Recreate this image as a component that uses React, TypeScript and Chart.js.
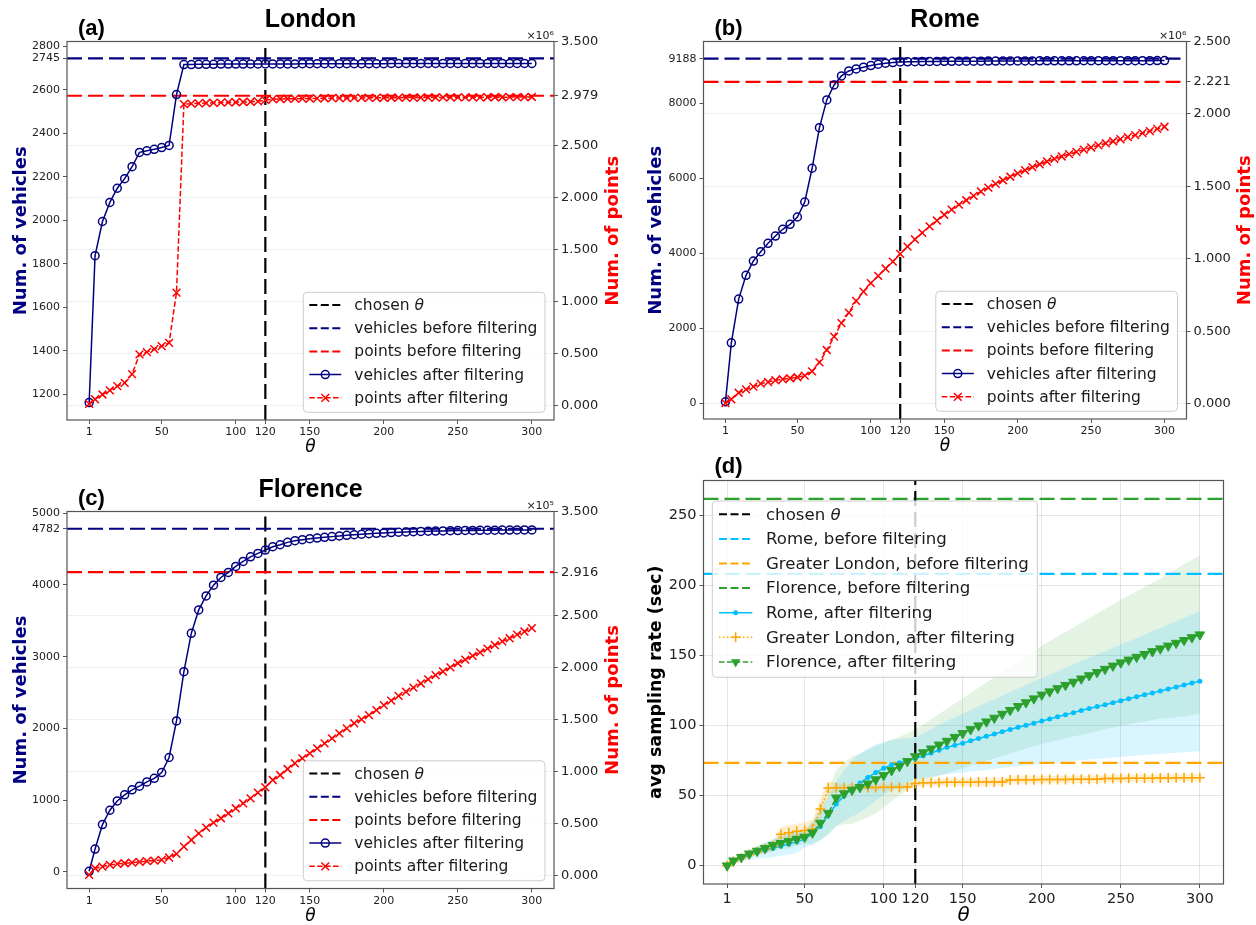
import { useEffect, useRef } from 'react';
import { Chart, registerables } from 'chart.js';

Chart.register(...registerables);

// ---------------- data ----------------
// Filtering threshold θ (seconds) at which each curve was evaluated
const THETA = [
  1, 5, 10, 15, 20, 25, 30, 35, 40, 45,
  50, 55, 60, 65, 70, 75, 80, 85, 90, 95,
  100, 105, 110, 115, 120, 125, 130, 135, 140, 145,
  150, 155, 160, 165, 170, 175, 180, 185, 190, 195,
  200, 205, 210, 215, 220, 225, 230, 235, 240, 245,
  250, 255, 260, 265, 270, 275, 280, 285, 290, 295,
  300,
];
const X_TICKS = [1, 50, 100, 120, 150, 200, 250, 300];
const CHOSEN_THETA = 120;

// (a) London
const LONDON_VEHICLES = [
  1162, 1838, 1995, 2083, 2148, 2192, 2247, 2313, 2320, 2327,
  2335, 2345, 2579, 2717, 2717, 2718, 2718, 2718, 2719, 2719,
  2719, 2719, 2720, 2720, 2720, 2720, 2720, 2720, 2720, 2721,
  2721, 2721, 2721, 2721, 2721, 2721, 2721, 2721, 2721, 2721,
  2721, 2722, 2722, 2722, 2722, 2722, 2722, 2722, 2722, 2722,
  2722, 2722, 2722, 2722, 2722, 2722, 2722, 2722, 2722, 2722,
  2722,
];
const LONDON_POINTS_E6 = [
  0.020, 0.064, 0.110, 0.150, 0.190, 0.222, 0.305, 0.495, 0.517, 0.545,
  0.575, 0.606, 1.089, 2.899, 2.903, 2.906, 2.909, 2.911, 2.913, 2.915,
  2.917, 2.919, 2.921, 2.925, 2.938, 2.946, 2.948, 2.950, 2.951, 2.952,
  2.953, 2.954, 2.955, 2.956, 2.957, 2.957, 2.958, 2.958, 2.959, 2.959,
  2.960, 2.960, 2.961, 2.961, 2.961, 2.962, 2.962, 2.962, 2.963, 2.963,
  2.963, 2.964, 2.964, 2.964, 2.965, 2.965, 2.965, 2.966, 2.966, 2.966,
  2.967,
];
const LONDON_VEHICLES_BEFORE = 2745;
const LONDON_POINTS_BEFORE_E6 = 2.979;
const LONDON_LEFT_TICKS = [1200, 1400, 1600, 1800, 2000, 2200, 2400, 2600, 2745, 2800];
const LONDON_RIGHT_TICKS = [0, 0.5, 1, 1.5, 2, 2.5, 2.979, 3.5];

// (b) Rome
const ROME_VEHICLES = [
  43, 1616, 2781, 3413, 3795, 4043, 4267, 4461, 4640, 4773,
  4968, 5368, 6267, 7349, 8088, 8488, 8728, 8861, 8915, 8960,
  9003, 9040, 9067, 9083, 9101, 9104, 9107, 9110, 9112, 9114,
  9116, 9118, 9119, 9120, 9121, 9122, 9123, 9124, 9125, 9126,
  9127, 9127, 9128, 9129, 9129, 9130, 9130, 9131, 9131, 9132,
  9132, 9133, 9133, 9134, 9134, 9134, 9135, 9135, 9135, 9136,
  9136,
];
const ROME_POINTS_E6 = [
  0.005, 0.032, 0.077, 0.100, 0.119, 0.140, 0.151, 0.163, 0.170, 0.177,
  0.184, 0.195, 0.225, 0.287, 0.372, 0.464, 0.557, 0.630, 0.711, 0.775,
  0.833, 0.883, 0.934, 0.982, 1.035, 1.085, 1.135, 1.180, 1.225, 1.265,
  1.305, 1.340, 1.375, 1.405, 1.435, 1.465, 1.492, 1.518, 1.543, 1.567,
  1.590, 1.612, 1.633, 1.653, 1.672, 1.690, 1.707, 1.723, 1.739, 1.754,
  1.769, 1.784, 1.798, 1.812, 1.826, 1.840, 1.854, 1.868, 1.882, 1.897,
  1.912,
];
const ROME_VEHICLES_BEFORE = 9188;
const ROME_POINTS_BEFORE_E6 = 2.221;
const ROME_LEFT_TICKS = [0, 2000, 4000, 6000, 8000, 9188];
const ROME_RIGHT_TICKS = [0, 0.5, 1, 1.5, 2, 2.221, 2.5];

// (c) Florence
const FLORENCE_VEHICLES = [
  10, 320, 660, 860, 990, 1075, 1145, 1195, 1255, 1305,
  1385, 1595, 2105, 2790, 3325, 3651, 3846, 3996, 4103, 4173,
  4257, 4327, 4391, 4438, 4485, 4531, 4559, 4592, 4615, 4629,
  4643, 4652, 4662, 4672, 4681, 4690, 4698, 4705, 4712, 4718,
  4724, 4729, 4733, 4737, 4741, 4744, 4747, 4750, 4752, 4754,
  4756, 4758, 4759, 4760, 4761, 4762, 4763, 4764, 4765, 4765,
  4766,
];
const FLORENCE_POINTS_E5 = [
  0.003, 0.067, 0.083, 0.099, 0.109, 0.115, 0.121, 0.128, 0.135, 0.141,
  0.147, 0.170, 0.205, 0.275, 0.339, 0.403, 0.458, 0.506, 0.548, 0.596,
  0.644, 0.692, 0.740, 0.794, 0.846, 0.916, 0.964, 1.022, 1.077, 1.125,
  1.173, 1.221, 1.269, 1.317, 1.365, 1.413, 1.462, 1.500, 1.541, 1.589,
  1.637, 1.680, 1.725, 1.765, 1.805, 1.845, 1.885, 1.925, 1.960, 2.000,
  2.040, 2.075, 2.110, 2.145, 2.180, 2.215, 2.250, 2.280, 2.315, 2.345,
  2.378,
];
const FLORENCE_VEHICLES_BEFORE = 4782;
const FLORENCE_POINTS_BEFORE_E5 = 2.916;
const FLORENCE_LEFT_TICKS = [0, 1000, 2000, 3000, 4000, 4782, 5000];
const FLORENCE_RIGHT_TICKS = [0, 0.5, 1, 1.5, 2, 2.5, 2.916, 3.5];

// (d) average sampling rate (sec): mean and spread after filtering
const RATE_ROME = [
  0, 3, 5.5, 7.5, 9.5, 11, 12.5, 14, 15.5, 17,
  19, 23, 28, 36, 44, 50, 55, 59, 63, 66.5,
  69.5, 72, 73.5, 75, 76.5, 78.5, 80.5, 82.5, 84.5, 86,
  87.5, 89.2, 90.8, 92.4, 94, 95.6, 97.2, 98.8, 100.3, 101.8,
  103.3, 104.8, 106.3, 107.8, 109.3, 110.8, 112.2, 113.6, 115, 116.4,
  117.8, 119.2, 120.6, 122, 123.4, 124.8, 126.2, 127.6, 129, 130.4,
  131.8,
];
const RATE_LONDON = [
  0, 3, 5.5, 8, 10, 12, 14, 22.5, 23.5, 24.5,
  25.2, 26, 40.5, 55.5, 55.6, 55.7, 55.8, 55.8, 55.9, 55.9,
  56, 56, 56, 56.1, 58.7, 59.2, 59.3, 59.4, 59.5, 59.5,
  59.6, 59.6, 59.7, 59.7, 59.8, 59.8, 61.2, 61.3, 61.4, 61.4,
  61.5, 61.5, 61.6, 61.6, 61.7, 61.7, 61.8, 61.8, 62.2, 62.3,
  62.3, 62.4, 62.4, 62.5, 62.5, 62.6, 62.6, 62.7, 62.7, 62.8,
  62.8,
];
const RATE_FLORENCE = [
  0, 3.5, 6, 8.5, 10.5, 12.5, 14.5, 16, 17.5, 19,
  20.5, 23.5, 30.5, 37.5, 48.5, 51.5, 54, 56, 58.5, 61.5,
  64.5, 68, 71, 74.5, 78, 80.8, 83.5, 86.3, 89, 91.8,
  94.5, 97.3, 100, 102.8, 105.5, 108.3, 111, 113.8, 116.5, 119.3,
  122, 124.3, 126.6, 128.9, 131.2, 133.5, 135.8, 138.1, 140.4, 142.7,
  145, 147, 149, 151, 153, 155, 157, 159, 161, 163,
  165,
];
const SPREAD_ROME = [
  0, 1.5, 2.5, 3.5, 4.5, 5.5, 6.5, 7, 7.5, 8,
  6, 8, 10, 13, 16, 18, 20, 21, 21, 20,
  19, 18, 17, 16, 15, 16, 17, 18, 19, 20,
  21, 22, 23, 24, 24.9, 25.8, 26.8, 27.8, 28.7, 29.7,
  30.6, 31.6, 32.5, 33.5, 34.4, 35.4, 36.3, 37.3, 38.2, 39.2,
  40.1, 41.1, 42, 43, 44, 45, 46, 47, 48, 49,
  50,
];
const SPREAD_LONDON = [
  0, 1, 1.5, 2, 2.5, 3, 4, 5, 5.5, 5.5,
  6, 6.5, 8, 5, 3, 2.5, 2.5, 2, 2, 2,
  2, 2, 2, 2, 2.5, 2.5, 2.5, 2.5, 2.5, 2.5,
  2.5, 2.5, 2.5, 2.5, 2.5, 2.5, 2.5, 2.5, 2.5, 2.5,
  2.5, 2.5, 2.5, 2.5, 2.5, 2.5, 2.5, 2.5, 2.5, 2.5,
  2.5, 2.5, 2.5, 2.5, 2.5, 2.5, 2.5, 2.5, 2.5, 2.5,
  2.5,
];
const SPREAD_FLORENCE = [
  0, 1, 2, 2.5, 3, 3.5, 4, 4.5, 5, 5,
  5, 8, 12, 16, 20, 22, 24, 24, 24, 24,
  23, 22, 21, 20, 19, 20, 21, 22, 23, 24,
  25, 26, 27, 28, 29, 30, 31, 32, 33, 34,
  35, 36, 37, 38, 39, 40, 41, 42, 43, 44,
  45, 46, 47, 48, 49, 50, 51.5, 53, 54.5, 55.5,
  56.5,
];
const RATE_ROME_BEFORE = 208.4;
const RATE_LONDON_BEFORE = 73.4;
const RATE_FLORENCE_BEFORE = 262;
const RATE_TICKS = [0, 50, 100, 150, 200, 250];

// ---------------- styling ----------------
const FIG_W = 1256;
const FIG_H = 925;
const FONT = '"DejaVu Sans", "Liberation Sans", sans-serif';
const TITLE_FONT = '"Liberation Sans", Arial, sans-serif';
const X_MIN = -13.95;
const X_MAX = 314.95;

const NAVY = '#000080';
const RED = '#ff0000';
const BLACK = '#000000';
const CYAN = '#00bfff';
const ORANGE = '#ffa500';
const GREEN = '#2ca02c';
const SPINE = '#555555';
const TICK_TEXT = '#222222';
const GRID_LIGHT = 'rgba(0,0,0,0.06)';
const GRID_D = 'rgba(0,0,0,0.1)';

const REF_DASH = [15, 6];
const LEG_DASH = [8, 3.5];
const SERIES_DASH = [5.5, 2.4];
const DOTTED = [1.5, 2.5];

type Area = { left: number; top: number; right: number; bottom: number };
type RefLine = { axis: string; value: number; color: string; dash: number[]; width: number };
type Label = {
  text: string; x: number; y: number; size: number; weight: string; color: string;
  align: 'left' | 'center' | 'right'; rotate?: boolean; family?: string;
};
type Marker = 'circle' | 'x' | 'dot' | 'plus' | 'tri';
type LegendEntry = { label: string; color: string; dash: number[]; width: number; marker?: Marker; r?: number };
type LegendBox = {
  x: number; y: number; w: number; h: number; row0: number; gap: number;
  handleX: number; handleLen: number; textX: number; size: number;
};

const pts = (ys: number[]) => THETA.map((t, i) => ({ x: t, y: ys[i] }));

function drawMarker(ctx: CanvasRenderingContext2D, m: Marker, x: number, y: number, r: number, color: string) {
  ctx.save();
  ctx.setLineDash([]);
  ctx.strokeStyle = color;
  ctx.fillStyle = color;
  ctx.lineWidth = 1.5;
  ctx.beginPath();
  if (m === 'circle') {
    ctx.arc(x, y, r, 0, Math.PI * 2);
    ctx.stroke();
  } else if (m === 'dot') {
    ctx.arc(x, y, r, 0, Math.PI * 2);
    ctx.fill();
  } else if (m === 'x') {
    const d = r * Math.SQRT1_2;
    ctx.moveTo(x - d, y - d); ctx.lineTo(x + d, y + d);
    ctx.moveTo(x - d, y + d); ctx.lineTo(x + d, y - d);
    ctx.stroke();
  } else if (m === 'plus') {
    ctx.moveTo(x - r, y); ctx.lineTo(x + r, y);
    ctx.moveTo(x, y - r); ctx.lineTo(x, y + r);
    ctx.stroke();
  } else {
    ctx.moveTo(x, y + r);
    ctx.lineTo(x - r * 0.866, y - r * 0.5);
    ctx.lineTo(x + r * 0.866, y - r * 0.5);
    ctx.closePath();
    ctx.fill();
  }
  ctx.restore();
}

// Text where every θ is set in italics, as in math mode
function drawRich(
  ctx: CanvasRenderingContext2D, text: string, x: number, y: number, size: number,
  weight: string, color: string, align: 'left' | 'center' | 'right', family = FONT,
) {
  const parts = text.split(/(θ)/).filter((p) => p.length > 0);
  const fontOf = (p: string) => `${p === 'θ' ? 'italic' : 'normal'} ${weight} ${size}px ${family}`;
  let total = 0;
  const widths = parts.map((p) => {
    ctx.font = fontOf(p);
    const w = ctx.measureText(p).width;
    total += w;
    return w;
  });
  let cx = align === 'center' ? x - total / 2 : align === 'right' ? x - total : x;
  ctx.fillStyle = color;
  ctx.textAlign = 'left';
  parts.forEach((p, i) => {
    ctx.font = fontOf(p);
    ctx.fillText(p, cx, y);
    cx += widths[i];
  });
}

function drawLegend(ctx: CanvasRenderingContext2D, b: LegendBox, items: LegendEntry[]) {
  ctx.save();
  ctx.setLineDash([]);
  ctx.beginPath();
  ctx.roundRect(b.x, b.y, b.w, b.h, 4);
  ctx.fillStyle = 'rgba(255,255,255,0.8)';
  ctx.fill();
  ctx.strokeStyle = '#cccccc';
  ctx.lineWidth = 1;
  ctx.stroke();
  items.forEach((it, i) => {
    const cy = b.y + b.row0 + i * b.gap;
    ctx.save();
    ctx.setLineDash(it.dash);
    ctx.lineWidth = it.width;
    ctx.strokeStyle = it.color;
    ctx.beginPath();
    ctx.moveTo(b.x + b.handleX, cy);
    ctx.lineTo(b.x + b.handleX + b.handleLen, cy);
    ctx.stroke();
    ctx.restore();
    if (it.marker) drawMarker(ctx, it.marker, b.x + b.handleX + b.handleLen / 2, cy, it.r ?? 4, it.color);
    ctx.textBaseline = 'middle';
    drawRich(ctx, it.label, b.x + b.textX, cy + 1, b.size, 'normal', '#1a1a1a', 'left');
  });
  ctx.restore();
}

type DecorOpts = { refs: RefLine[]; refsAfter?: number; labels: Label[]; legendBox: LegendBox; legend: LegendEntry[] };

function decor(opts: DecorOpts) {
  const drawRefs = (chart: any) => {
    const { ctx, chartArea: a, scales } = chart;
    ctx.save();
    ctx.beginPath();
    ctx.rect(a.left, a.top, a.right - a.left, a.bottom - a.top);
    ctx.clip();
    for (const r of opts.refs) {
      ctx.setLineDash(r.dash);
      ctx.lineWidth = r.width;
      ctx.strokeStyle = r.color;
      ctx.beginPath();
      if (r.axis === 'x') {
        const px = scales.x.getPixelForValue(r.value);
        ctx.moveTo(px, a.bottom);
        ctx.lineTo(px, a.top);
      } else {
        const py = scales[r.axis].getPixelForValue(r.value);
        ctx.moveTo(a.left, py);
        ctx.lineTo(a.right, py);
      }
      ctx.stroke();
    }
    ctx.restore();
  };
  return {
    id: 'decor',
    beforeDatasetsDraw(chart: any) {
      if (opts.refsAfter === undefined) drawRefs(chart);
    },
    afterDatasetDraw(chart: any, args: any) {
      if (opts.refsAfter === args.index) drawRefs(chart);
    },
    afterDraw(chart: any) {
      const { ctx, chartArea: a } = chart;
      ctx.save();
      ctx.setLineDash([]);
      ctx.strokeStyle = SPINE;
      ctx.lineWidth = 1.2;
      ctx.strokeRect(a.left, a.top, a.right - a.left, a.bottom - a.top);
      for (const l of opts.labels) {
        ctx.save();
        ctx.textBaseline = 'middle';
        if (l.rotate) {
          ctx.translate(l.x, l.y);
          ctx.rotate(-Math.PI / 2);
          drawRich(ctx, l.text, 0, 0, l.size, l.weight, l.color, l.align, l.family);
        } else {
          ctx.textBaseline = 'alphabetic';
          drawRich(ctx, l.text, l.x, l.y, l.size, l.weight, l.color, l.align, l.family);
        }
        ctx.restore();
      }
      drawLegend(ctx, opts.legendBox, opts.legend);
      ctx.restore();
    },
  };
}

const setTicks = (values: number[]) => (scale: any) => {
  scale.ticks = values.map((v) => ({ value: v }));
};

const tickGrid = (onArea: boolean, color: string) => ({
  display: true,
  drawOnChartArea: onArea,
  drawTicks: true,
  tickLength: 4,
  tickColor: SPINE,
  tickWidth: 1,
  color,
  lineWidth: 1,
});

type CountsCfg = {
  area: Area;
  vehicles: number[];
  points: number[];
  leftRange: [number, number];
  rightRange: [number, number];
  leftTicks: number[];
  rightTicks: number[];
  vehiclesBefore: number;
  pointsBefore: number;
  panel: string;
  title: string;
  exponent: string;
  legendBox: LegendBox;
  leftTitleX: number;
  rightTitleX: number;
};

const COUNTS_LEGEND: LegendEntry[] = [
  { label: 'chosen θ', color: BLACK, dash: LEG_DASH, width: 2 },
  { label: 'vehicles before filtering', color: NAVY, dash: LEG_DASH, width: 2 },
  { label: 'points before filtering', color: RED, dash: LEG_DASH, width: 2 },
  { label: 'vehicles after filtering', color: NAVY, dash: [], width: 1.5, marker: 'circle', r: 4 },
  { label: 'points after filtering', color: RED, dash: SERIES_DASH, width: 1.5, marker: 'x', r: 5.5 },
];

function countsChart(canvas: HTMLCanvasElement, c: CountsCfg) {
  const LEFT_W = 60;
  const RIGHT_W = 66;
  const X_H = 40;
  const a = c.area;
  const midX = (a.left + a.right) / 2;
  const midY = (a.top + a.bottom) / 2;
  const labels: Label[] = [
    { text: c.panel, x: a.left + 11, y: a.top - 7, size: 22, weight: 'bold', color: BLACK, align: 'left', family: TITLE_FONT },
    { text: c.title, x: midX, y: a.top - 14.5, size: 25, weight: 'bold', color: BLACK, align: 'center', family: TITLE_FONT },
    { text: c.exponent, x: a.right, y: a.top - 3, size: 11, weight: 'normal', color: TICK_TEXT, align: 'right' },
    { text: 'Num. of vehicles', x: c.leftTitleX, y: midY, size: 18, weight: 'bold', color: NAVY, align: 'center', rotate: true },
    { text: 'Num. of points', x: c.rightTitleX, y: midY, size: 18, weight: 'bold', color: RED, align: 'center', rotate: true },
    { text: 'θ', x: midX, y: a.bottom + 32, size: 17, weight: 'normal', color: BLACK, align: 'center' },
  ];
  return new Chart(canvas, {
    type: 'line',
    data: {
      datasets: [
        {
          label: 'points after filtering',
          data: pts(c.points),
          yAxisID: 'y2',
          borderColor: RED,
          borderWidth: 1.5,
          borderDash: SERIES_DASH,
          pointStyle: 'crossRot',
          pointRadius: 5.5,
          pointBorderWidth: 1.5,
          pointBorderColor: RED,
          pointBackgroundColor: RED,
          tension: 0,
          fill: false,
          order: 0,
        },
        {
          label: 'vehicles after filtering',
          data: pts(c.vehicles),
          yAxisID: 'y',
          borderColor: NAVY,
          borderWidth: 1.5,
          pointStyle: 'circle',
          pointRadius: 4,
          pointBorderWidth: 1.5,
          pointBorderColor: NAVY,
          pointBackgroundColor: 'rgba(0,0,0,0)',
          tension: 0,
          fill: false,
          order: 1,
        },
      ],
    },
    options: {
      animation: false,
      responsive: false,
      devicePixelRatio: 1,
      events: [],
      layout: {
        autoPadding: false,
        padding: { left: a.left - LEFT_W, right: FIG_W - a.right - RIGHT_W, top: a.top, bottom: FIG_H - a.bottom - X_H },
      },
      plugins: { legend: { display: false }, tooltip: { enabled: false }, title: { display: false } },
      scales: {
        x: {
          type: 'linear',
          min: X_MIN,
          max: X_MAX,
          afterBuildTicks: setTicks(X_TICKS),
          afterFit: (s: any) => { s.height = X_H; },
          ticks: { autoSkip: false, maxRotation: 0, minRotation: 0, padding: 2, color: TICK_TEXT, font: { family: FONT, size: 11 }, callback: (v: any) => String(v) },
          grid: tickGrid(false, GRID_LIGHT),
          border: { display: false },
        },
        y: {
          type: 'linear',
          position: 'left',
          min: c.leftRange[0],
          max: c.leftRange[1],
          afterBuildTicks: setTicks(c.leftTicks),
          afterFit: (s: any) => { s.width = LEFT_W; },
          ticks: { autoSkip: false, padding: 3, color: TICK_TEXT, font: { family: FONT, size: 11 }, callback: (v: any) => String(v) },
          grid: tickGrid(false, GRID_LIGHT),
          border: { display: false },
        },
        y2: {
          type: 'linear',
          position: 'right',
          min: c.rightRange[0],
          max: c.rightRange[1],
          afterBuildTicks: setTicks(c.rightTicks),
          afterFit: (s: any) => { s.width = RIGHT_W; },
          ticks: { autoSkip: false, padding: 3, color: TICK_TEXT, font: { family: FONT, size: 13 }, callback: (v: any) => Number(v).toFixed(3) },
          grid: tickGrid(true, GRID_LIGHT),
          border: { display: false },
        },
      },
    } as any,
    plugins: [
      decor({
        refs: [
          { axis: 'x', value: CHOSEN_THETA, color: BLACK, dash: REF_DASH, width: 2.2 },
          { axis: 'y', value: c.vehiclesBefore, color: NAVY, dash: REF_DASH, width: 2.2 },
          { axis: 'y2', value: c.pointsBefore, color: RED, dash: REF_DASH, width: 2.2 },
        ],
        labels,
        legendBox: c.legendBox,
        legend: COUNTS_LEGEND,
      }),
    ],
  });
}

const SMALL_LEGEND = { w: 241.7, h: 120, row0: 12.7, gap: 23.2, handleX: 6, handleLen: 32, textX: 51, size: 15.5 };

const LONDON_CFG: CountsCfg = {
  area: { left: 67, top: 41.5, right: 554, bottom: 420 },
  vehicles: LONDON_VEHICLES,
  points: LONDON_POINTS_E6,
  leftRange: [1082, 2823],
  rightRange: [-0.135, 3.5],
  leftTicks: LONDON_LEFT_TICKS,
  rightTicks: LONDON_RIGHT_TICKS,
  vehiclesBefore: LONDON_VEHICLES_BEFORE,
  pointsBefore: LONDON_POINTS_BEFORE_E6,
  panel: '(a)',
  title: 'London',
  exponent: '×10⁶',
  legendBox: { x: 303.3, y: 292.3, ...SMALL_LEGEND },
  leftTitleX: 21,
  rightTitleX: 613,
};

const ROME_CFG: CountsCfg = {
  area: { left: 703.5, top: 41.5, right: 1186.5, bottom: 419 },
  vehicles: ROME_VEHICLES,
  points: ROME_POINTS_E6,
  leftRange: [-415, 9645],
  rightRange: [-0.104, 2.5],
  leftTicks: ROME_LEFT_TICKS,
  rightTicks: ROME_RIGHT_TICKS,
  vehiclesBefore: ROME_VEHICLES_BEFORE,
  pointsBefore: ROME_POINTS_BEFORE_E6,
  panel: '(b)',
  title: 'Rome',
  exponent: '×10⁶',
  legendBox: { x: 935.8, y: 291.3, ...SMALL_LEGEND },
  leftTitleX: 656,
  rightTitleX: 1245,
};

const FLORENCE_CFG: CountsCfg = {
  area: { left: 67, top: 511.5, right: 554, bottom: 888.5 },
  vehicles: FLORENCE_VEHICLES,
  points: FLORENCE_POINTS_E5,
  leftRange: [-230, 5022],
  rightRange: [-0.128, 3.5],
  leftTicks: FLORENCE_LEFT_TICKS,
  rightTicks: FLORENCE_RIGHT_TICKS,
  vehiclesBefore: FLORENCE_VEHICLES_BEFORE,
  pointsBefore: FLORENCE_POINTS_BEFORE_E5,
  panel: '(c)',
  title: 'Florence',
  exponent: '×10⁵',
  legendBox: { x: 303.3, y: 760.8, ...SMALL_LEGEND },
  leftTitleX: 21,
  rightTitleX: 613,
};

const RATE_LEGEND: LegendEntry[] = [
  { label: 'chosen θ', color: BLACK, dash: LEG_DASH, width: 2 },
  { label: 'Rome, before filtering', color: CYAN, dash: LEG_DASH, width: 2 },
  { label: 'Greater London, before filtering', color: ORANGE, dash: LEG_DASH, width: 2 },
  { label: 'Florence, before filtering', color: GREEN, dash: LEG_DASH, width: 2 },
  { label: 'Rome, after filtering', color: CYAN, dash: [], width: 1.5, marker: 'dot', r: 2.5 },
  { label: 'Greater London, after filtering', color: ORANGE, dash: DOTTED, width: 1.5, marker: 'plus', r: 5 },
  { label: 'Florence, after filtering', color: GREEN, dash: SERIES_DASH, width: 1.5, marker: 'tri', r: 5.5 },
];

function band(mean: number[], spread: number[], color: string, order: number) {
  const upper = {
    data: pts(mean.map((m, i) => m + spread[i])),
    borderColor: 'rgba(0,0,0,0)',
    borderWidth: 0,
    pointRadius: 0,
    fill: false,
    tension: 0,
    order,
  };
  const lower = {
    data: pts(mean.map((m, i) => m - spread[i])),
    borderColor: 'rgba(0,0,0,0)',
    borderWidth: 0,
    pointRadius: 0,
    fill: '-1',
    backgroundColor: color,
    tension: 0,
    order,
  };
  return [upper, lower];
}

function rateChart(canvas: HTMLCanvasElement) {
  const a: Area = { left: 703.5, top: 480.5, right: 1223.5, bottom: 884 };
  const LEFT_W = 52;
  const X_H = 40;
  const midX = (a.left + a.right) / 2;
  const midY = (a.top + a.bottom) / 2;
  const datasets: any[] = [
    {
      label: 'Florence, after filtering',
      data: pts(RATE_FLORENCE),
      borderColor: GREEN,
      borderWidth: 1.5,
      borderDash: SERIES_DASH,
      pointStyle: 'triangle',
      pointRotation: 180,
      pointRadius: 5.5,
      pointBorderWidth: 1,
      pointBorderColor: GREEN,
      pointBackgroundColor: GREEN,
      tension: 0,
      fill: false,
      order: 1,
    },
    {
      label: 'Greater London, after filtering',
      data: pts(RATE_LONDON),
      borderColor: ORANGE,
      borderWidth: 1.5,
      borderDash: DOTTED,
      pointStyle: 'cross',
      pointRadius: 5,
      pointBorderWidth: 1.5,
      pointBorderColor: ORANGE,
      pointBackgroundColor: ORANGE,
      tension: 0,
      fill: false,
      order: 2,
    },
    {
      label: 'Rome, after filtering',
      data: pts(RATE_ROME),
      borderColor: CYAN,
      borderWidth: 1.5,
      pointStyle: 'circle',
      pointRadius: 2.5,
      pointBorderWidth: 0,
      pointBorderColor: CYAN,
      pointBackgroundColor: CYAN,
      tension: 0,
      fill: false,
      order: 3,
    },
  ];
  const romeBandIndex = datasets.length;
  datasets.push(...band(RATE_ROME, SPREAD_ROME, 'rgba(0,191,255,0.15)', 10));
  datasets.push(...band(RATE_LONDON, SPREAD_LONDON, 'rgba(255,165,0,0.18)', 11));
  datasets.push(...band(RATE_FLORENCE, SPREAD_FLORENCE, 'rgba(44,160,44,0.12)', 12));

  const labels: Label[] = [
    { text: '(d)', x: a.left + 11, y: a.top - 7.5, size: 22, weight: 'bold', color: BLACK, align: 'left', family: TITLE_FONT },
    { text: 'avg sampling rate (sec)', x: 656, y: midY, size: 17.5, weight: 'bold', color: BLACK, align: 'center', rotate: true },
    { text: 'θ', x: midX, y: a.bottom + 37, size: 20, weight: 'normal', color: BLACK, align: 'center' },
  ];

  return new Chart(canvas, {
    type: 'line',
    data: { datasets },
    options: {
      animation: false,
      responsive: false,
      devicePixelRatio: 1,
      events: [],
      layout: {
        autoPadding: false,
        padding: { left: a.left - LEFT_W, right: FIG_W - a.right, top: a.top, bottom: FIG_H - a.bottom - X_H },
      },
      plugins: { legend: { display: false }, tooltip: { enabled: false }, title: { display: false }, filler: { propagate: false } },
      scales: {
        x: {
          type: 'linear',
          min: X_MIN,
          max: X_MAX,
          afterBuildTicks: setTicks(X_TICKS),
          afterFit: (s: any) => { s.height = X_H; },
          ticks: { autoSkip: false, maxRotation: 0, minRotation: 0, padding: 3, color: TICK_TEXT, font: { family: FONT, size: 14.5 }, callback: (v: any) => String(v) },
          grid: tickGrid(true, GRID_D),
          border: { display: false },
        },
        y: {
          type: 'linear',
          position: 'left',
          min: -13.1,
          max: 275.1,
          afterBuildTicks: setTicks(RATE_TICKS),
          afterFit: (s: any) => { s.width = LEFT_W; },
          ticks: { autoSkip: false, padding: 3, color: TICK_TEXT, font: { family: FONT, size: 14.5 }, callback: (v: any) => String(v) },
          grid: tickGrid(true, GRID_D),
          border: { display: false },
        },
      },
    } as any,
    plugins: [
      decor({
        refs: [
          { axis: 'y', value: RATE_FLORENCE_BEFORE, color: GREEN, dash: REF_DASH, width: 2.2 },
          { axis: 'y', value: RATE_ROME_BEFORE, color: CYAN, dash: REF_DASH, width: 2.2 },
          { axis: 'y', value: RATE_LONDON_BEFORE, color: ORANGE, dash: REF_DASH, width: 2.2 },
          { axis: 'x', value: CHOSEN_THETA, color: BLACK, dash: REF_DASH, width: 2.2 },
        ],
        refsAfter: romeBandIndex,
        labels,
        legendBox: { x: 712.3, y: 501, w: 325, h: 176.3, row0: 13.3, gap: 24.6, handleX: 6.7, handleLen: 33.3, textX: 53.7, size: 16.6 },
        legend: RATE_LEGEND,
      }),
    ],
  });
}

export default function App() {
  const r0 = useRef<HTMLCanvasElement>(null);
  const r1 = useRef<HTMLCanvasElement>(null);
  const r2 = useRef<HTMLCanvasElement>(null);
  const r3 = useRef<HTMLCanvasElement>(null);

  useEffect(() => {
    const charts = [
      countsChart(r0.current!, LONDON_CFG),
      countsChart(r1.current!, ROME_CFG),
      countsChart(r2.current!, FLORENCE_CFG),
      rateChart(r3.current!),
    ];
    return () => charts.forEach((c) => c.destroy());
  }, []);

  const style = { position: 'absolute' as const, left: 0, top: 0 };
  return (
    <div style={{ position: 'absolute', left: 0, top: 0, width: FIG_W, height: FIG_H, background: '#ffffff' }}>
      <canvas ref={r0} width={FIG_W} height={FIG_H} style={style} />
      <canvas ref={r1} width={FIG_W} height={FIG_H} style={style} />
      <canvas ref={r2} width={FIG_W} height={FIG_H} style={style} />
      <canvas ref={r3} width={FIG_W} height={FIG_H} style={style} />
    </div>
  );
}
